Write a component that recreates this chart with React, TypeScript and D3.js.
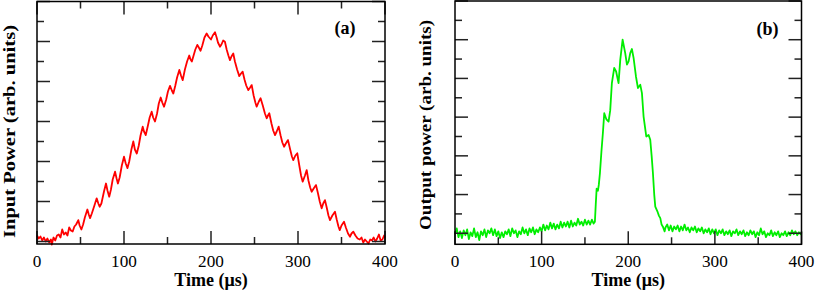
import React from 'react';
import * as d3 from 'd3';

// time (µs), power (arb. units)
const inputTimes = [0,2,4,6,8,10,12,14,16,17,19,21,23,25,27,29,31,33,35,37,39,41,43,45,47.5,49,51,53,55,57.9,59.5,61,63,66,68.6,70.5,72,74,77,79.3,81,83,85,87,89.7,91.5,93,95,97.5,100,102,104,106,108.5,110.7,112.5,114.7,117,119,121.5,123,125,127.5,129.5,131.8,133.5,135.6,138,140,142.2,144,146,148.5,150.5,152.9,155,156.7,159,161,163.6,165.5,167.5,170,172.5,175,176.5,178,180,182,184.3,186,188,190,192.5,195,197,200,202,204.6,206.5,208,210.3,212,214,216,218,220,221.8,223.5,225.6,227.5,230,232.5,234.5,236.4,238.5,240.5,242.9,245,246.8,249,251,252.5,255,257,259.5,262,264,265.5,267,269.5,271.5,273.6,275.5,277.8,280,282,284,286,288.5,291,293,294.6,297,299.2,301.5,303.5,305.4,308,310,312,314,315.7,318,320.7,323,325,327.2,329,331,333,335,336.8,339.5,342.5,344.5,346.5,348,350,352.9,355,357.5,359.8,361.5,363.6,366,368.5,371,373,375,377,379,381,383,385,387,389,391,393,395,397,399,400];
const inputValues = [0.3,0.15,0.25,0.05,0.2,0.0,0.15,-0.05,0.1,-0.15,0.2,0.05,0.3,0.35,0.2,0.6,0.35,0.45,0.3,0.7,0.55,0.5,0.75,0.85,1.07,0.8,0.6,0.85,1.2,1.6,1.35,1.17,1.4,1.8,2.16,1.9,1.74,1.9,2.5,2.9,2.55,2.24,2.6,3.1,3.49,3.15,2.9,3.2,3.8,4.24,3.9,3.67,4.0,4.6,5.0,4.6,4.4,4.8,5.3,5.74,5.5,5.32,5.8,6.2,6.49,6.2,6.0,6.4,6.9,7.2,6.95,6.74,7.1,7.5,7.78,7.55,7.4,7.8,8.2,8.58,8.3,8.07,8.6,9.0,9.3,9.1,9.0,9.3,9.6,9.83,9.7,9.54,9.8,10.2,10.4,10.25,10.1,10.3,10.46,10.2,9.95,9.74,9.85,10.05,9.99,9.6,9.3,9.07,9.25,9.4,9.0,8.6,8.27,8.4,8.49,8.1,7.8,7.57,7.7,7.82,7.3,6.95,6.74,7.0,7.16,6.8,6.4,6.16,6.3,6.41,5.9,5.55,5.32,5.5,5.74,5.3,4.95,4.74,4.9,5.07,4.6,4.25,4.07,4.3,4.41,3.8,3.3,2.99,3.3,3.57,3.05,2.7,2.49,2.65,2.82,2.4,2.0,1.66,1.9,2.07,1.7,1.3,1.07,1.3,1.49,1.1,0.75,0.57,0.8,0.99,0.7,0.4,0.24,0.4,0.49,0.3,0.15,0.1,0.2,-0.05,0.1,0.0,-0.1,0.1,0.05,0.2,0.0,0.15,0.35,0.05,0.1,0.3,0.2];

const outputTimes = [0,2,4,6,8,10,12,14,16,18,20,22,24,26,28,30,32,34,36,38,40,42,44,46,48,50,52,54,56,58,60,62,64,66,68,70,72,74,76,78,80,82,84,86,88,90,92,94,96,98,100,102,104,106,108,110,112,114,116,118,120,122,124,126,128,130,132,134,136,138,140,142,144,146,148,150,152,154,156,158,160,161.5,162.5,163.5,165,166,167.3,169,170.7,172.3,174.6,177.3,179.2,181.1,183.8,186,188.8,190.8,193.5,196.5,198.5,200.4,202.3,204.2,206.2,208.9,211.2,213.9,215.8,217.7,220.8,223.5,225.4,227,228.5,230,231.2,233.9,235.5,237,238.5,240,242,243,245,247,249,251,253,255,257,259,261,263,265,267,269,271,273,275,277,279,281,283,285,287,289,291,293,295,297,299,301,303,305,307,309,311,313,315,317,319,321,323,325,327,329,331,333,335,337,339,341,343,345,347,349,351,353,355,357,359,361,363,365,367,369,371,373,375,377,379,381,383,385,387,389,391,393,395,397,399,400];
const outputValues = [-0.05,0.25,-0.2,0.1,-0.25,0.15,-0.1,0.2,-0.3,0.05,-0.15,0.25,-0.2,0.05,-0.35,0.1,-0.1,0.2,-0.2,0.15,0.0,0.25,-0.1,0.2,-0.15,0.1,-0.25,0.05,-0.2,0.1,-0.05,0.2,-0.15,0.25,0.0,0.15,-0.2,0.1,-0.05,0.3,0.0,0.2,-0.1,0.25,0.05,0.3,-0.05,0.2,0.05,0.3,0.1,0.45,0.15,0.4,0.2,0.55,0.25,0.5,0.2,0.45,0.25,0.6,0.3,0.55,0.35,0.6,0.3,0.65,0.35,0.55,0.4,0.75,0.45,0.6,0.4,0.7,0.45,0.65,0.45,0.7,0.5,0.6,1.5,2.3,2.2,2.5,3.1,4.2,5.17,6.2,5.9,5.77,6.36,7.76,8.54,8.36,7.76,8.97,10.0,9.31,8.71,8.88,9.31,9.52,9.05,8.1,7.5,7.67,7.24,6.03,5.0,5.08,4.83,4.0,3.1,2.0,1.38,1.1,0.9,0.78,0.45,0.34,0.1,0.3,0.45,0.15,0.4,0.1,0.35,0.2,0.4,0.1,0.35,0.15,0.45,0.15,0.3,0.05,0.3,0.15,0.35,0.05,0.25,0.1,0.3,0.0,0.2,0.05,0.25,-0.05,0.2,0.0,0.2,-0.1,0.15,0.0,0.2,-0.1,0.1,-0.05,0.15,-0.15,0.1,0.0,0.2,-0.1,0.1,-0.05,0.15,-0.15,0.05,-0.1,0.15,-0.05,0.1,-0.2,0.05,-0.1,0.25,-0.05,0.1,-0.2,0.0,-0.1,0.15,-0.15,0.05,-0.1,0.1,-0.2,0.0,-0.1,0.1,-0.15,0.05,-0.1,0.15,-0.05,0.1,-0.1,0.05,-0.05,0.05];

const xTicks = [0, 100, 200, 300, 400];
const xMinorTicks = [50, 150, 250, 350];
const yTicks = [0, 2, 4, 6, 8, 10, 12];
const yMinorTicks = [1, 3, 5, 7, 9, 11];

const FONT = '"Liberation Serif", "DejaVu Serif", serif';

type PanelProps = {
  times: number[];
  values: number[];
  color: string;
  xRange: [number, number];
  yDomain: [number, number];
  yRange: [number, number];
  yLabel: string;
  yLabelX: number;
  yLabelY: number;
  yLabelLen: number;
  tag: string;
  tagX: number;
  tagY: number;
  topTicks: boolean;
};

const Panel = (p: PanelProps) => {
  const x = d3.scaleLinear().domain([0, 400]).range(p.xRange);
  const y = d3.scaleLinear().domain(p.yDomain).range(p.yRange);
  const [x0, x1] = p.xRange;
  const [y0, y1] = p.yRange; // y0 bottom, y1 top
  const pts = p.times.map((t, i) => [t, p.values[i]] as [number, number]);
  const line = d3.line<[number, number]>().x(d => x(d[0])).y(d => y(d[1]));
  const tickColor = '#222';
  const MAJ = 13, MIN = 7;

  return (
    <g>
      <path d={line(pts) || ''} fill="none" stroke={p.color} strokeWidth={1.8} strokeLinejoin="round" />
      {/* x ticks */}
      {xTicks.map(t => (
        <g key={'xt' + t}>
          <line x1={x(t)} x2={x(t)} y1={y0} y2={y0 - MAJ} stroke={tickColor} strokeWidth={1.5} />
          {p.topTicks && <line x1={x(t)} x2={x(t)} y1={y1} y2={y1 + MAJ} stroke={tickColor} strokeWidth={1.5} />}
          <text x={x(t)} y={266.8} textAnchor="middle" fontFamily={FONT} fontSize={17.2}>{t}</text>
        </g>
      ))}
      {xMinorTicks.map(t => (
        <g key={'xm' + t}>
          <line x1={x(t)} x2={x(t)} y1={y0} y2={y0 - MIN} stroke={tickColor} strokeWidth={1.5} />
          {p.topTicks && <line x1={x(t)} x2={x(t)} y1={y1} y2={y1 + MIN} stroke={tickColor} strokeWidth={1.5} />}
        </g>
      ))}
      {/* y ticks, both sides, no labels */}
      {yTicks.map(v => (
        <g key={'yt' + v}>
          <line x1={x0} x2={x0 + MAJ} y1={y(v)} y2={y(v)} stroke={tickColor} strokeWidth={1.5} />
          <line x1={x1} x2={x1 - MAJ} y1={y(v)} y2={y(v)} stroke={tickColor} strokeWidth={1.5} />
        </g>
      ))}
      {yMinorTicks.map(v => (
        <g key={'ym' + v}>
          <line x1={x0} x2={x0 + MIN} y1={y(v)} y2={y(v)} stroke={tickColor} strokeWidth={1.5} />
          <line x1={x1} x2={x1 - MIN} y1={y(v)} y2={y(v)} stroke={tickColor} strokeWidth={1.5} />
        </g>
      ))}
      <rect x={x0} y={y1} width={x1 - x0} height={y0 - y1} fill="none" stroke="#000" strokeWidth={1.5} />
      <text x={(x0 + x1) / 2} y={285.5} textAnchor="middle" fontFamily={FONT} fontSize={18} fontWeight="bold">Time (μs)</text>
      <text transform={`translate(${p.yLabelX},${p.yLabelY}) rotate(-90)`} textAnchor="middle" fontFamily={FONT}
        fontSize={17} fontWeight="bold" textLength={p.yLabelLen} lengthAdjust="spacingAndGlyphs">{p.yLabel}</text>
      <text x={p.tagX} y={p.tagY} fontFamily={FONT} fontSize={18} fontWeight="bold">{p.tag}</text>
    </g>
  );
};

export default function App() {
  return (
    <svg width={817} height={291} style={{ position: 'absolute', left: 0, top: 0, background: '#fff' }}>
      <Panel times={inputTimes} values={inputValues} color="#ff0000"
        xRange={[37, 385]} yDomain={[-0.125, 12]} yRange={[244, 1.5]}
        yLabel="Input Power (arb. units)" yLabelX={15} yLabelY={131.5} yLabelLen={213}
        tag="(a)" tagX={334.5} tagY={33.5} topTicks={true} />
      <Panel times={outputTimes} values={outputValues} color="#00ee00"
        xRange={[455, 801.5]} yDomain={[-0.57, 12]} yRange={[244.3, 1]}
        yLabel="Output power (arb. units)" yLabelX={430.5} yLabelY={125} yLabelLen={210}
        tag="(b)" tagX={756.5} tagY={35.4} topTicks={false} />
    </svg>
  );
}
